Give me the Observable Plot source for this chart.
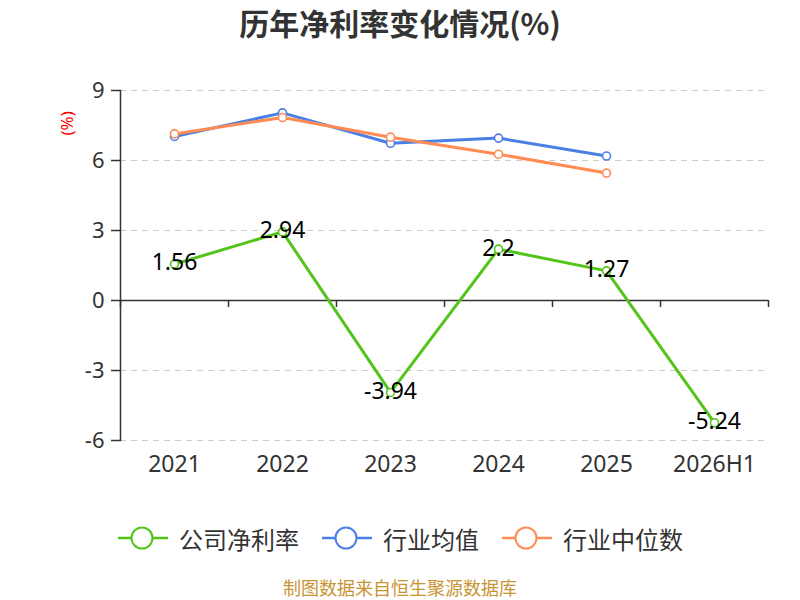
<!DOCTYPE html>
<html>
<head>
<meta charset="utf-8">
<script src="https://cdn.jsdelivr.net/npm/d3@7"></script>
<script src="https://cdn.jsdelivr.net/npm/@observablehq/plot@0.6"></script>
<style>
  body { margin: 0; background: #fff; font-family: "Noto Sans", "Noto Sans CJK SC", sans-serif; }
  #wrap { position: relative; width: 800px; height: 600px; overflow: hidden; }
  #title { position: absolute; top: 0; left: 0; width: 800px; height: 44px; line-height: 44px; text-align: center;
           font-size: 30px; font-weight: bold; color: #333; font-family: "Noto Sans CJK SC", sans-serif; }
  #chart { position: absolute; top: 50px; left: 0; }
  #legend { position: absolute; top: 520px; left: 0; width: 800px; height: 36px; display: flex; justify-content: center; align-items: center;
            font-size: 24px; color: #333; font-family: "Noto Sans CJK SC", sans-serif; }
  .item { display: flex; align-items: center; margin: 0 11px; }
  .item svg { margin-right: 10px; }
  #caption { position: absolute; top: 575px; left: 0; width: 800px; text-align: center; font-size: 18px; line-height: 24px; color: #c89434;
             font-family: "Noto Sans CJK SC", sans-serif; }
</style>
</head>
<body>
<div id="wrap">
  <div id="title">历年净利率变化情况(%)</div>
  <div id="chart"></div>
  <div id="legend"></div>
  <div id="caption">制图数据来自恒生聚源数据库</div>
</div>
<script>
const categories = ["2021", "2022", "2023", "2024", "2025", "2026H1"];
const companyRate = [1.56, 2.94, -3.94, 2.2, 1.27, -5.24];
const companyLabels = ["1.56", "2.94", "-3.94", "2.2", "1.27", "-5.24"];
const industryAvg = [7.03, 8.04, 6.74, 6.96, 6.19, null];
const industryMedian = [7.14, 7.84, 7.0, 6.27, 5.46, null];
const yTicks = [-6, -3, 0, 3, 6, 9];
const seriesNames = ["公司净利率", "行业均值", "行业中位数"];
const seriesColors = ["#52c41a", "#4a7fe6", "#ff8c55"];

const company = categories.map((c, i) => ({cat: c, v: companyRate[i], label: companyLabels[i]}));
const avg = categories.map((c, i) => ({cat: c, v: industryAvg[i]})).filter(d => d.v != null);
const med = categories.map((c, i) => ({cat: c, v: industryMedian[i]})).filter(d => d.v != null);

const fontStack = "'Noto Sans', 'Noto Sans CJK SC', sans-serif";

const chart = Plot.plot({
  width: 800,
  height: 440,
  marginTop: 40,
  marginBottom: 50,
  marginLeft: 120,
  marginRight: 32,
  style: {fontFamily: fontStack, background: "transparent", overflow: "visible"},
  x: {type: "band", domain: categories, padding: 0, axis: null},
  y: {domain: [-6, 9], axis: null},
  marks: [
    Plot.ruleY(yTicks.filter(t => t !== 0), {stroke: "#ccc", strokeWidth: 1.2, strokeDasharray: "6,5"}),
    Plot.frame({anchor: "left", stroke: "#333", strokeWidth: 1.5}),
    Plot.ruleY([0], {stroke: "#333", strokeWidth: 1.5}),
    Plot.ruleX(categories, {x: d => d, y1: 0, y2: 0, dx: -54, insetBottom: -7, stroke: "#333", strokeWidth: 1.5}),
    Plot.ruleX([categories[categories.length - 1]], {x: d => d, y1: 0, y2: 0, dx: 54, insetBottom: -7, stroke: "#333", strokeWidth: 1.5}),
    Plot.axisY({ticks: yTicks, tickFormat: d => String(d), tickSize: 9, tickPadding: 7, fontSize: 22, color: "#333", stroke: "#333", strokeWidth: 1.5, label: null}),
    Plot.axisX({tickSize: 0, tickPadding: 15, fontSize: 23, color: "#333", label: null}),
    Plot.text(["(%)"], {frameAnchor: "top-left", rotate: -90, dx: -60, dy: 45, fill: "red", fontSize: 17}),
    Plot.line(avg, {x: "cat", y: "v", stroke: seriesColors[1], strokeWidth: 3}),
    Plot.line(med, {x: "cat", y: "v", stroke: seriesColors[2], strokeWidth: 3}),
    Plot.line(company, {x: "cat", y: "v", stroke: seriesColors[0], strokeWidth: 3}),
    Plot.dot(avg, {x: "cat", y: "v", r: 4, fill: "white", stroke: seriesColors[1], strokeWidth: 1.6}),
    Plot.dot(med, {x: "cat", y: "v", r: 4, fill: "white", stroke: seriesColors[2], strokeWidth: 1.6}),
    Plot.dot(company, {x: "cat", y: "v", r: 4, fill: "white", stroke: seriesColors[0], strokeWidth: 1.6}),
    Plot.text(company, {x: "cat", y: "v", text: "label", fontSize: 23, fill: "#000", dy: -1})
  ]
});
document.getElementById("chart").appendChild(chart);

const legend = document.getElementById("legend");
seriesNames.forEach((name, i) => {
  const item = document.createElement("div");
  item.className = "item";
  item.innerHTML = `<svg width="52" height="26"><line x1="1" y1="13" x2="51" y2="13" stroke="${seriesColors[i]}" stroke-width="2.5"/><circle cx="25" cy="13" r="10.5" fill="white" stroke="${seriesColors[i]}" stroke-width="2"/></svg><span>${name}</span>`;
  legend.appendChild(item);
});
</script>
</body>
</html>
